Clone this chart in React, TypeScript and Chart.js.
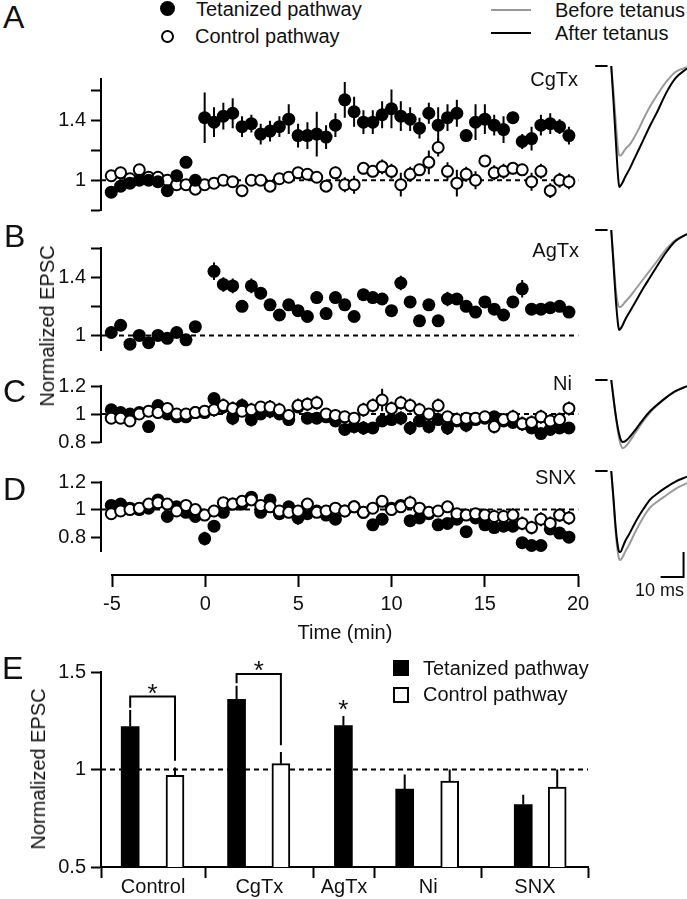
import React, { useEffect, useRef } from "react";
import { Chart, registerables } from "chart.js";
Chart.register(...registerables);

const FONT = "'Liberation Sans', Arial, Helvetica, sans-serif";
const INK = "#111";
Chart.defaults.font.family = FONT;
Chart.defaults.color = INK;

// ---------------- time-course data (panels A-D) ----------------
const times = [-5, -4.5, -4, -3.5, -3, -2.5, -2, -1.5, -1, -0.5, 0, 0.5, 1, 1.5, 2, 2.5, 3, 3.5, 4, 4.5, 5, 5.5, 6, 6.5, 7, 7.5, 8, 8.5, 9, 9.5, 10, 10.5, 11, 11.5, 12, 12.5, 13, 13.5, 14, 14.5, 15, 15.5, 16, 16.5, 17, 17.5, 18, 18.5, 19, 19.5];
const xTicks = [-5, 0, 5, 10, 15, 20];

const cgtxTet = [0.92, 0.96, 0.98, 1.0, 1.0, 0.99, 0.93, 1.03, 1.12, 1.0, 1.42, 1.39, 1.43, 1.45, 1.36, 1.38, 1.31, 1.33, 1.36, 1.41, 1.30, 1.30, 1.31, 1.29, 1.37, 1.54, 1.46, 1.39, 1.39, 1.44, 1.48, 1.43, 1.41, 1.35, 1.45, 1.37, 1.42, 1.45, 1.30, 1.39, 1.41, 1.37, 1.34, 1.42, 1.26, 1.28, 1.37, 1.38, 1.36, 1.30];
const cgtxTetErr = [0.03, 0.02, 0.02, 0.02, 0.02, 0.02, 0.03, 0.03, 0.02, 0.02, 0.17, 0.1, 0.09, 0.1, 0.07, 0.06, 0.07, 0.07, 0.07, 0.1, 0.08, 0.09, 0.15, 0.08, 0.08, 0.12, 0.1, 0.08, 0.08, 0.09, 0.13, 0.1, 0.08, 0.07, 0.07, 0.12, 0.09, 0.09, 0.04, 0.12, 0.1, 0.07, 0.09, 0.04, 0.05, 0.08, 0.07, 0.07, 0.05, 0.06];
const cgtxCtrl = [1.03, 1.05, 1.01, 1.07, 1.02, 1.02, 1.0, 0.97, 0.97, 0.94, 0.97, 0.98, 1.0, 0.99, 0.93, 1.0, 1.0, 0.96, 1.01, 1.02, 1.05, 1.04, 1.02, 0.96, 1.05, 0.97, 0.97, 1.08, 1.06, 1.09, 1.06, 0.97, 1.04, 1.07, 1.12, 1.22, 1.06, 0.98, 1.04, 1.0, 1.13, 1.05, 1.06, 1.08, 1.07, 0.99, 1.06, 0.93, 1.0, 0.99];
const cgtxCtrlErr = [0.02, 0.02, 0.02, 0.02, 0.02, 0.02, 0.02, 0.02, 0.02, 0.02, 0.03, 0.03, 0.02, 0.03, 0.02, 0.02, 0.03, 0.03, 0.03, 0.03, 0.03, 0.03, 0.03, 0.03, 0.04, 0.05, 0.06, 0.04, 0.04, 0.05, 0.05, 0.08, 0.05, 0.04, 0.08, 0.06, 0.06, 0.09, 0.05, 0.06, 0.03, 0.05, 0.05, 0.04, 0.04, 0.06, 0.05, 0.05, 0.05, 0.05];

const agtxTet = [1.02, 1.07, 0.94, 1.0, 0.95, 1.0, 0.98, 1.02, 0.97, 1.06, null, 1.44, 1.35, 1.34, 1.20, 1.34, 1.29, 1.21, 1.14, 1.21, 1.17, 1.13, 1.26, 1.15, 1.26, 1.21, 1.13, 1.28, 1.26, 1.25, 1.17, 1.36, 1.23, 1.10, 1.21, 1.10, 1.25, 1.25, 1.20, 1.16, 1.23, 1.18, 1.14, 1.23, 1.32, 1.18, 1.18, 1.19, 1.20, 1.16];
const agtxTetErr = [0.02, 0.02, 0.03, 0.02, 0.02, 0.02, 0.02, 0.02, 0.02, 0.02, null, 0.06, 0.05, 0.05, 0.03, 0.05, 0.04, 0.04, 0.03, 0.03, 0.03, 0.04, 0.04, 0.04, 0.03, 0.03, 0.03, 0.04, 0.03, 0.03, 0.03, 0.05, 0.03, 0.03, 0.04, 0.04, 0.05, 0.04, 0.03, 0.03, 0.03, 0.03, 0.03, 0.04, 0.06, 0.04, 0.04, 0.04, 0.04, 0.04];

const niTet = [1.03, 1.01, 1.0, 1.01, 0.91, 1.06, 1.0, 0.98, 0.98, 1.01, 1.01, 1.11, 1.05, 0.97, 1.06, 0.96, 1.0, 1.02, 1.0, 0.96, 1.05, 0.97, 0.97, 0.98, 0.95, 0.89, 0.91, 0.9, 0.9, 0.95, 0.96, 0.97, 0.9, 0.95, 0.91, 0.96, 0.9, 0.95, 0.92, 0.96, 0.97, 0.98, 0.95, 0.94, 0.93, 0.9, 0.86, 0.89, 0.9, 0.9];
const niTetErr = [0.02, 0.02, 0.02, 0.02, 0.02, 0.02, 0.02, 0.02, 0.02, 0.02, 0.03, 0.04, 0.05, 0.05, 0.05, 0.05, 0.04, 0.05, 0.04, 0.04, 0.04, 0.04, 0.04, 0.04, 0.04, 0.04, 0.05, 0.05, 0.04, 0.04, 0.04, 0.05, 0.05, 0.04, 0.05, 0.04, 0.05, 0.04, 0.05, 0.04, 0.04, 0.04, 0.04, 0.04, 0.05, 0.04, 0.04, 0.04, 0.04, 0.04];
const niCtrl = [0.97, 0.97, 0.95, 1.0, 1.02, 1.01, 1.04, 1.0, 1.0, 1.01, 1.02, 1.03, 1.06, 1.04, 1.02, 1.03, 1.05, 1.05, 1.03, 0.99, 1.06, 1.07, 1.08, 1.0, 0.99, 0.98, 0.97, 1.03, 1.06, 1.1, 1.04, 1.08, 1.06, 1.03, 1.0, 1.06, 0.98, 0.96, 0.97, 0.97, 0.98, 0.91, 0.96, 0.98, 0.93, 0.94, 0.98, 0.95, 0.96, 1.04];
const niCtrlErr = [0.02, 0.02, 0.02, 0.02, 0.02, 0.02, 0.02, 0.02, 0.02, 0.02, 0.03, 0.05, 0.05, 0.05, 0.04, 0.05, 0.04, 0.05, 0.05, 0.04, 0.05, 0.05, 0.05, 0.04, 0.04, 0.04, 0.04, 0.05, 0.05, 0.08, 0.05, 0.05, 0.05, 0.05, 0.04, 0.05, 0.04, 0.05, 0.04, 0.04, 0.04, 0.05, 0.04, 0.05, 0.05, 0.05, 0.05, 0.05, 0.05, 0.05];

const snxTet = [1.03, 1.04, 1.01, 1.0, 1.01, 1.07, 0.95, 1.02, 0.98, 0.95, 0.79, 0.88, 0.98, 1.04, 1.04, 1.09, 0.98, 1.07, 0.97, 1.02, 0.94, 0.97, 0.99, 0.96, 0.93, 0.99, 1.02, 0.98, 0.89, 0.93, 1.01, 1.03, 0.92, 0.94, 0.97, 0.89, 0.9, 0.93, 0.84, 0.94, 0.89, 0.87, 0.88, 0.88, 0.76, 0.74, 0.74, 0.86, 0.83, 0.80];
const snxTetErr = [0.02, 0.02, 0.02, 0.02, 0.02, 0.02, 0.02, 0.02, 0.02, 0.02, 0.05, 0.04, 0.04, 0.03, 0.03, 0.03, 0.03, 0.03, 0.03, 0.03, 0.05, 0.04, 0.04, 0.04, 0.04, 0.04, 0.04, 0.04, 0.03, 0.04, 0.04, 0.04, 0.04, 0.04, 0.04, 0.04, 0.04, 0.04, 0.04, 0.04, 0.04, 0.04, 0.04, 0.04, 0.03, 0.02, 0.02, 0.04, 0.04, 0.04];
const snxCtrl = [0.97, 0.99, 1.0, 1.01, 1.04, 1.05, 1.04, 0.99, 1.03, 1.0, 0.96, 0.99, 1.05, 1.04, 1.06, 1.07, 1.03, 1.02, 0.99, 0.98, 0.99, 1.04, 0.98, 0.99, 1.01, 0.99, 1.02, 0.98, 1.01, 1.06, 1.0, 1.02, 1.05, 1.01, 0.98, 0.99, 1.02, 0.97, 0.96, 0.97, 0.96, 0.95, 0.95, 0.96, 0.9, 0.87, 0.93, 0.9, 0.96, 0.94];
const snxCtrlErr = [0.02, 0.02, 0.02, 0.02, 0.02, 0.02, 0.02, 0.02, 0.02, 0.02, 0.03, 0.03, 0.03, 0.03, 0.03, 0.03, 0.03, 0.03, 0.03, 0.03, 0.04, 0.04, 0.04, 0.04, 0.04, 0.04, 0.04, 0.04, 0.04, 0.04, 0.04, 0.04, 0.05, 0.04, 0.04, 0.04, 0.04, 0.04, 0.04, 0.04, 0.04, 0.05, 0.05, 0.05, 0.05, 0.05, 0.05, 0.05, 0.05, 0.05];

// ---------------- EPSC traces (normalised amplitude vs ms) ----------------
const traceTimes = [0, 1, 2, 3, 3.5, 4, 5, 6, 8, 10, 12, 14, 17, 20, 24, 28, 33];
const stubTimes = [-7, -1.6];
const cgtxBefore = [0, -0.22, -0.47, -0.7, -0.74, -0.74, -0.72, -0.69, -0.65, -0.59, -0.52, -0.44, -0.33, -0.24, -0.13, -0.05, -0.01];
const cgtxAfter = [0, -0.3, -0.62, -0.92, -1.0, -0.99, -0.96, -0.92, -0.85, -0.77, -0.69, -0.61, -0.49, -0.38, -0.22, -0.1, -0.02];
const agtxBefore = [0, -0.3, -0.6, -0.75, -0.77, -0.77, -0.75, -0.72, -0.67, -0.61, -0.55, -0.49, -0.4, -0.31, -0.19, -0.1, -0.04];
const agtxAfter = [0, -0.35, -0.7, -0.95, -1.0, -0.99, -0.95, -0.9, -0.82, -0.74, -0.66, -0.58, -0.47, -0.36, -0.22, -0.11, -0.04];
const niBefore = [0, -0.3, -0.6, -0.85, -0.95, -1.03, -1.1, -1.08, -0.99, -0.88, -0.77, -0.66, -0.52, -0.41, -0.28, -0.18, -0.1];
const niAfter = [0, -0.3, -0.58, -0.8, -0.88, -0.95, -1.0, -0.99, -0.92, -0.83, -0.73, -0.63, -0.5, -0.4, -0.28, -0.18, -0.1];
const snxBefore = [0, -0.38, -0.78, -1.03, -1.09, -1.1, -1.06, -1.0, -0.9, -0.78, -0.67, -0.57, -0.45, -0.38, -0.3, -0.22, -0.15];
const snxAfter = [0, -0.35, -0.72, -0.95, -1.0, -1.0, -0.94, -0.87, -0.77, -0.66, -0.56, -0.47, -0.35, -0.28, -0.2, -0.13, -0.07];
const scaleBarMs = 10;
const scaleBarAmp = 0.31;

// ---------------- summary bars (panel E) ----------------
const categories = ["Control", "CgTx", "AgTx", "Ni", "SNX"];
const tetanizedMean = [1.22, 1.36, 1.225, 0.9, 0.82];
const tetanizedErr = [0.085, 0.07, 0.05, 0.075, 0.05];
const controlMean = [0.97, 1.03, null, 0.94, 0.91];
const controlErr = [0.04, 0.06, null, 0.06, 0.09];
const eTicks = [0.5, 1, 1.5];
const sigBracketCats = [0, 1];
const sigBracketTops = [1.375, 1.49];
const sigStarCats = [2];

// ---------------- layout constants ----------------
const X_MIN = -5.55;
const X_MAX = 20.2;
const catEdges = [0, 21.4, 43.6, 56.2, 78.2, 100];
const tetFrac = [0.28, 0.29, 0.49, 0.28, 0.39];
const ctrlFrac = [0.71, 0.7, null, 0.7, 0.71];
const TICK_FONT = 20;

const errorBarPlugin = {
  id: "errorBars",
  beforeDatasetDraw(chart: any, args: any) {
    const ds: any = chart.data.datasets[args.index];
    if (!ds.errorBars) return;
    const meta = args.meta;
    const ys = chart.scales[meta.yAxisID];
    const ctx = chart.ctx;
    ctx.save();
    ctx.strokeStyle = "#000";
    ctx.lineWidth = 2;
    ctx.beginPath();
    meta.data.forEach((el: any, i: number) => {
      const e = ds.errorBars[i];
      const d = ds.data[i];
      if (e == null || d == null || d.y == null) return;
      ctx.moveTo(el.x, ys.getPixelForValue(d.y + e));
      ctx.lineTo(el.x, ys.getPixelForValue(ds.errorUp ? d.y : d.y - e));
    });
    ctx.stroke();
    ctx.restore();
  },
};

function toPoints(values: (number | null)[], errs: (number | null)[]) {
  const data: any[] = [];
  const e: any[] = [];
  values.forEach((v, i) => {
    if (v != null) {
      data.push({ x: times[i], y: v });
      e.push(errs[i]);
    }
  });
  return { data, e };
}

type PanelDef = {
  tet: (number | null)[];
  tetErr: (number | null)[];
  ctrl?: (number | null)[];
  ctrlErr?: (number | null)[];
  yMin: number;
  yMax: number;
  ticks: number[];
  labels: number[];
  top: number;
  bottom: number;
  openOnTop: boolean;
};

const panels: PanelDef[] = [
  { tet: cgtxTet, tetErr: cgtxTetErr, ctrl: cgtxCtrl, ctrlErr: cgtxCtrlErr, yMin: 0.8, yMax: 1.68, ticks: [0.8, 1, 1.2, 1.4, 1.6], labels: [1, 1.4], top: 76, bottom: 213, openOnTop: false },
  { tet: agtxTet, tetErr: agtxTetErr, yMin: 0.9, yMax: 1.6, ticks: [1, 1.2, 1.4, 1.6], labels: [1, 1.4], top: 245, bottom: 353, openOnTop: false },
  { tet: niTet, tetErr: niTetErr, ctrl: niCtrl, ctrlErr: niCtrlErr, yMin: 0.8, yMax: 1.2, ticks: [0.8, 1, 1.2], labels: [0.8, 1, 1.2], top: 383, bottom: 445, openOnTop: true },
  { tet: snxTet, tetErr: snxTetErr, ctrl: snxCtrl, ctrlErr: snxCtrlErr, yMin: 0.7, yMax: 1.2, ticks: [0.8, 1, 1.2], labels: [0.8, 1, 1.2], top: 479, bottom: 554, openOnTop: true },
];
const PAD_V = 14;

function panelConfig(p: PanelDef): any {
  const tet = toPoints(p.tet, p.tetErr);
  const datasets: any[] = [
    { type: "line", data: [{ x: X_MIN, y: 1 }, { x: 20, y: 1 }], borderColor: "#000", borderWidth: 2, borderDash: [5, 4], pointRadius: 0, order: 10, clip: false },
    { type: "scatter", data: tet.data, errorBars: tet.e, pointRadius: 6.5, pointHoverRadius: 6.5, pointBackgroundColor: "#000", pointBorderColor: "#000", pointBorderWidth: 0, showLine: false, clip: false, order: p.openOnTop ? 2 : 1 },
  ];
  if (p.ctrl && p.ctrlErr) {
    const c = toPoints(p.ctrl, p.ctrlErr);
    datasets.push({ type: "scatter", data: c.data, errorBars: c.e, pointRadius: 5.5, pointHoverRadius: 5.5, pointBackgroundColor: "#fff", pointBorderColor: "#000", pointBorderWidth: 2, showLine: false, clip: false, order: p.openOnTop ? 1 : 2 });
  }
  return {
    type: "scatter",
    data: { datasets },
    plugins: [errorBarPlugin],
    options: {
      responsive: false,
      animation: false,
      devicePixelRatio: 1,
      events: [],
      layout: { padding: { top: PAD_V, bottom: PAD_V, left: 0, right: 8 } },
      plugins: { legend: { display: false }, tooltip: { enabled: false } },
      scales: {
        x: { type: "linear", display: false, min: X_MIN, max: X_MAX },
        y: {
          type: "linear",
          min: p.yMin,
          max: p.yMax,
          afterBuildTicks: (s: any) => { s.ticks = p.ticks.map((v) => ({ value: v })); },
          afterFit: (s: any) => { s.width = 101; },
          ticks: { callback: (v: any) => (p.labels.includes(v) ? String(v) : ""), font: { size: TICK_FONT, family: FONT }, color: INK, padding: 5, autoSkip: false },
          grid: { drawOnChartArea: false, drawTicks: true, tickLength: 10, tickWidth: 2, tickColor: "#000" },
          border: { display: true, color: "#000", width: 2 },
        },
      },
    },
  };
}

function xAxisConfig(): any {
  return {
    type: "scatter",
    data: { datasets: [] },
    options: {
      responsive: false,
      animation: false,
      devicePixelRatio: 1,
      events: [],
      layout: { padding: { top: 0, bottom: 0, left: 112, right: 22 } },
      plugins: { legend: { display: false }, tooltip: { enabled: false } },
      scales: {
        x: {
          type: "linear",
          position: "bottom",
          min: -5,
          max: 20,
          afterBuildTicks: (s: any) => { s.ticks = xTicks.map((v) => ({ value: v })); },
          afterFit: (s: any) => { s.height = 46; },
          ticks: { callback: (v: any) => String(v), font: { size: TICK_FONT, family: FONT }, color: INK, padding: 5, maxRotation: 0, minRotation: 0, autoSkip: false },
          grid: { drawOnChartArea: false, tickLength: 12, tickWidth: 2, tickColor: "#000" },
          border: { display: true, color: "#000", width: 2 },
        },
        y: { display: false, min: 0, max: 1 },
      },
    },
  };
}

const traceBoxes = [
  { top: 54, bottom: 200, base: 66, amp: 121, before: cgtxBefore, after: cgtxAfter, bar: false },
  { top: 218, bottom: 345, base: 230, amp: 100, before: agtxBefore, after: agtxAfter, bar: false },
  { top: 368, bottom: 458, base: 380, amp: 62, before: niBefore, after: niAfter, bar: false },
  { top: 458, bottom: 590, base: 471, amp: 81, before: snxBefore, after: snxAfter, bar: true },
];

function traceConfig(t: typeof traceBoxes[number]): any {
  const line = (vals: number[]) => vals.map((v, i) => ({ x: traceTimes[i], y: v }));
  const datasets: any[] = [
    { data: stubTimes.map((x) => ({ x, y: 0 })), borderColor: "#000", borderWidth: 2, pointRadius: 0, order: 0, clip: false },
    { data: line(t.after), borderColor: "#000", borderWidth: 2, pointRadius: 0, cubicInterpolationMode: "monotone", order: 1, clip: false },
    { data: line(t.before), borderColor: "#9a9a9a", borderWidth: 2, pointRadius: 0, cubicInterpolationMode: "monotone", order: 2, clip: false },
  ];
  if (t.bar) {
    const x1 = 31.5;
    const x0 = x1 - scaleBarMs;
    const yb = -(577 - t.base) / t.amp;
    datasets.push({ data: [{ x: x0, y: yb }, { x: x1, y: yb }, { x: x1, y: yb + scaleBarAmp }], borderColor: "#000", borderWidth: 2, pointRadius: 0, tension: 0, order: 0, clip: false, borderJoinStyle: "miter" });
  }
  return {
    type: "line",
    data: { datasets },
    options: {
      responsive: false,
      animation: false,
      devicePixelRatio: 1,
      events: [],
      layout: { padding: 0 },
      plugins: { legend: { display: false }, tooltip: { enabled: false } },
      scales: {
        x: { type: "linear", display: false, min: -11, max: 33 },
        y: { type: "linear", display: false, min: -(t.bottom - t.base) / t.amp, max: (t.base - t.top) / t.amp },
      },
    },
  };
}

function barConfig(): any {
  const catCenter = categories.map((_, i) => (catEdges[i] + catEdges[i + 1]) / 2);
  const xPos = (i: number, f: number | null) => (f == null ? null : catEdges[i] + f * (catEdges[i + 1] - catEdges[i]));
  const tetX = categories.map((_, i) => xPos(i, tetFrac[i]) as number);
  const ctrlX = categories.map((_, i) => xPos(i, ctrlFrac[i]));
  const tetData = tetanizedMean.map((v, i) => ({ x: tetX[i], y: v }));
  const ctrlData: any[] = [];
  const ctrlE: any[] = [];
  controlMean.forEach((v, i) => {
    if (v != null) {
      ctrlData.push({ x: ctrlX[i], y: v });
      ctrlE.push(controlErr[i]);
    }
  });
  const datasets: any[] = [
    { type: "line", data: [{ x: 0, y: 1 }, { x: 100, y: 1 }], borderColor: "#000", borderWidth: 2, borderDash: [5, 4], pointRadius: 0, order: 10 },
    { type: "bar", data: tetData, errorBars: tetanizedErr, errorUp: true, backgroundColor: "#000", borderColor: "#000", borderWidth: 0, barThickness: 18, grouped: false, order: 2 },
    { type: "bar", data: ctrlData, errorBars: ctrlE, errorUp: true, backgroundColor: "#fff", borderColor: "#000", borderWidth: 2, borderSkipped: "bottom", barThickness: 18, grouped: false, order: 3 },
  ];
  const stars: { x: number; y: number }[] = [];
  sigBracketCats.forEach((c, k) => {
    const top = sigBracketTops[k];
    const cm = controlMean[c] as number;
    const ce = controlErr[c] as number;
    datasets.push({
      type: "line",
      data: [
        { x: tetX[c], y: tetanizedMean[c] + tetanizedErr[c] + 0.012 },
        { x: tetX[c], y: top },
        { x: ctrlX[c], y: top },
        { x: ctrlX[c], y: cm + ce + 0.035 },
      ],
      borderColor: "#000", borderWidth: 2, pointRadius: 0, tension: 0, order: 1, clip: false, borderJoinStyle: "miter",
    });
    stars.push({ x: (tetX[c] + (ctrlX[c] as number)) / 2, y: top + 0.05 });
  });
  sigStarCats.forEach((c) => stars.push({ x: tetX[c], y: tetanizedMean[c] + tetanizedErr[c] + 0.065 }));

  const starPlugin = {
    id: "stars",
    afterDatasetsDraw(chart: any) {
      const ctx = chart.ctx;
      ctx.save();
      ctx.fillStyle = INK;
      ctx.font = `26px ${FONT}`;
      ctx.textAlign = "center";
      ctx.textBaseline = "alphabetic";
      stars.forEach((s) => {
        ctx.fillText("*", chart.scales.x.getPixelForValue(s.x), chart.scales.y.getPixelForValue(s.y) + 15);
      });
      ctx.restore();
    },
  };

  const xTickVals = [...catEdges, ...catCenter].sort((a, b) => a - b);
  return {
    type: "bar",
    data: { datasets },
    plugins: [errorBarPlugin, starPlugin],
    options: {
      responsive: false,
      animation: false,
      devicePixelRatio: 1,
      events: [],
      layout: { padding: { top: 32, bottom: 0, left: 0, right: 12 } },
      plugins: { legend: { display: false }, tooltip: { enabled: false } },
      scales: {
        x: {
          type: "linear",
          min: 0,
          max: 100,
          offset: false,
          afterBuildTicks: (s: any) => { s.ticks = xTickVals.map((v) => ({ value: v })); },
          afterFit: (s: any) => { s.height = 32; },
          ticks: {
            callback: (v: any) => { const i = catCenter.indexOf(v); return i >= 0 ? categories[i] : ""; },
            font: { size: 20, family: FONT }, color: INK, padding: -3, maxRotation: 0, minRotation: 0, autoSkip: false,
          },
          grid: { offset: false, drawOnChartArea: false, tickLength: 11, tickWidth: 2, tickColor: (c: any) => (c.tick && catEdges.includes(c.tick.value) ? "#000" : "rgba(0,0,0,0)") },
          border: { display: true, color: "#000", width: 2 },
        },
        y: {
          type: "linear",
          min: 0.5,
          max: 1.5,
          beginAtZero: false,
          afterBuildTicks: (s: any) => { s.ticks = eTicks.map((v) => ({ value: v })); },
          afterFit: (s: any) => { s.width = 101; },
          ticks: { callback: (v: any) => String(v), font: { size: TICK_FONT, family: FONT }, color: INK, padding: 5, autoSkip: false },
          grid: { drawOnChartArea: false, tickLength: 10, tickWidth: 2, tickColor: "#000" },
          border: { display: true, color: "#000", width: 2 },
        },
      },
    },
  };
}

function ChartBox({ x, y, w, h, make }: { x: number; y: number; w: number; h: number; make: () => any }) {
  const ref = useRef<HTMLCanvasElement>(null);
  useEffect(() => {
    const chart = new Chart(ref.current as HTMLCanvasElement, make());
    return () => chart.destroy();
  }, []);
  return <canvas ref={ref} width={w} height={h} style={{ position: "absolute", left: x, top: y, width: w, height: h }} />;
}

function Txt({ x, y, text, size = 20, align = "left", rotate = false }: { x: number; y: number; text: string; size?: number; align?: "left" | "right" | "center"; rotate?: boolean }) {
  const tx = align === "left" ? "0" : align === "right" ? "-100%" : "-50%";
  return (
    <div
      style={{
        position: "absolute", left: x, top: y, fontSize: size, lineHeight: `${size}px`, fontFamily: FONT, color: INK, whiteSpace: "nowrap",
        transform: rotate ? "translate(-50%,-50%) rotate(-90deg)" : `translate(${tx},-50%)`,
      }}
    >
      {text}
    </div>
  );
}

export default function App() {
  return (
    <div style={{ position: "absolute", left: 0, top: 0, width: 687, height: 899, background: "#fff", overflow: "hidden", fontFamily: FONT }}>
      {panels.map((p, i) => (
        <ChartBox key={i} x={0} y={p.top - PAD_V} w={590} h={p.bottom - p.top + 2 * PAD_V} make={() => panelConfig(p)} />
      ))}
      <ChartBox x={0} y={561} w={600} h={60} make={xAxisConfig} />
      {traceBoxes.map((t, i) => (
        <ChartBox key={"t" + i} x={586} y={t.top} w={101} h={t.bottom - t.top} make={() => traceConfig(t)} />
      ))}
      <ChartBox x={0} y={640} w={600} h={259} make={barConfig} />

      {/* panel letters */}
      <Txt x={3} y={17} text="A" size={32} />
      <Txt x={4} y={236} text="B" size={32} />
      <Txt x={3} y={391} text="C" size={32} />
      <Txt x={3} y={489} text="D" size={32} />
      <Txt x={2} y={668} text="E" size={32} />

      {/* top legend */}
      <div style={{ position: "absolute", left: 160, top: 1, width: 15, height: 15, borderRadius: 8, background: "#000" }} />
      <Txt x={196} y={9} text="Tetanized pathway" />
      <div style={{ position: "absolute", left: 161, top: 30, width: 9, height: 9, borderRadius: 7, border: "2px solid #000", background: "#fff" }} />
      <Txt x={195} y={36} text="Control pathway" />
      <div style={{ position: "absolute", left: 491, top: 9, width: 40, height: 2, background: "#9a9a9a" }} />
      <Txt x={555} y={10} text="Before tetanus" />
      <div style={{ position: "absolute", left: 491, top: 32, width: 40, height: 2, background: "#000" }} />
      <Txt x={555} y={33} text="After tetanus" />

      {/* condition labels */}
      <Txt x={578} y={79} text="CgTx" align="right" />
      <Txt x={579} y={250} text="AgTx" align="right" />
      <Txt x={572} y={383} text="Ni" align="right" />
      <Txt x={576} y={477} text="SNX" align="right" />

      <Txt x={47} y={326} text="Normalized EPSC" rotate />
      <Txt x={345} y={632} text="Time (min)" align="center" />
      <Txt x={684} y={590} text="10 ms" size={18} align="right" />

      {/* panel E legend and axis title */}
      <div style={{ position: "absolute", left: 393, top: 660, width: 16, height: 16, background: "#000" }} />
      <Txt x={423} y={668} text="Tetanized pathway" />
      <div style={{ position: "absolute", left: 393, top: 687, width: 12, height: 12, border: "2px solid #000", background: "#fff" }} />
      <Txt x={423} y={694} text="Control pathway" />
      <Txt x={38} y={769} text="Normalized EPSC" rotate />
    </div>
  );
}
